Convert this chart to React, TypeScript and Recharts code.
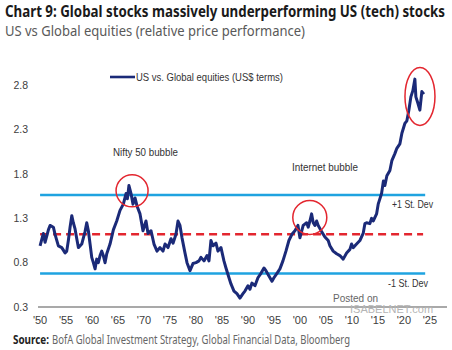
import {
  LineChart,
  Line,
  XAxis,
  YAxis,
  ReferenceLine,
  ReferenceDot,
} from 'recharts';

// relative price, US vs Global equities
const years = [
  1950.0, 1950.63, 1950.96, 1951.6, 1951.92, 1952.56, 1952.88, 1953.52, 1954.17, 1954.81,
  1955.13, 1955.44, 1955.77, 1956.1, 1956.4, 1956.73, 1957.06, 1957.37, 1958.02, 1958.65,
  1958.98, 1959.29, 1959.62, 1959.94, 1960.25, 1960.58, 1960.9, 1961.21, 1961.54, 1961.87,
  1962.17, 1962.5, 1962.83, 1963.46, 1964.1, 1964.75, 1965.38, 1966.02, 1966.54, 1966.8,
  1967.1, 1967.5, 1967.88, 1968.27, 1968.65, 1969.23, 1969.8, 1970.38, 1970.77, 1971.35,
  1971.92, 1972.5, 1973.08, 1973.65, 1974.04, 1974.62, 1975.19, 1975.58, 1976.15, 1976.54,
  1976.92, 1977.31, 1977.88, 1978.27, 1978.85, 1979.42, 1980.0, 1980.58, 1980.96, 1981.54,
  1982.12, 1982.5, 1982.88, 1983.27, 1983.85, 1984.23, 1984.81, 1985.38, 1985.77, 1986.35,
  1986.73, 1987.31, 1987.88, 1988.46, 1989.04, 1989.42, 1990.0, 1990.38, 1990.77, 1991.35,
  1991.92, 1992.5, 1993.08, 1993.46, 1994.04, 1994.62, 1995.0, 1995.58, 1996.15, 1996.73,
  1997.31, 1997.88, 1998.46, 1999.04, 1999.62, 2000.0, 2000.63, 2001.29, 2001.6, 2001.92,
  2002.25, 2002.56, 2002.88, 2003.21, 2003.52, 2004.17, 2004.81, 2005.44, 2005.77, 2006.4,
  2007.06, 2007.69, 2008.33, 2008.98, 2009.62, 2009.94, 2010.25, 2010.9, 2011.54, 2012.17,
  2012.5, 2012.83, 2013.46, 2013.79, 2014.1, 2014.75, 2015.06, 2015.71, 2016.06, 2016.35,
  2016.73, 2017.31, 2017.69, 2018.27, 2018.65, 2019.23, 2019.62, 2020.19, 2020.58, 2020.96,
  2021.35, 2021.73, 2022.12, 2022.31, 2022.69, 2023.08, 2023.46, 2023.85,
];

const usVsGlobal = [
  0.99, 1.13, 1.03, 1.17, 1.22, 1.2, 1.12, 0.99, 0.97, 0.91,
  0.93, 1.05, 1.2, 1.33, 1.25, 1.18, 1.07, 0.97, 1.01, 1.15,
  1.25, 1.16, 1.01, 0.86, 0.8, 0.73, 0.84, 0.8, 0.88, 0.93,
  0.88, 0.8, 0.9, 1.01, 1.17, 1.27, 1.39, 1.46, 1.58, 1.52,
  1.67, 1.58, 1.46, 1.53, 1.44, 1.35, 1.16, 1.27, 1.13, 1.16,
  1.01, 0.93, 0.97, 0.93, 1.01, 0.97, 1.07, 1.02, 1.12, 1.27,
  1.22, 1.08, 0.91, 0.8, 0.71, 0.79, 0.8, 0.82, 0.86, 0.82,
  0.88, 0.82, 1.05, 0.99, 1.02, 0.93, 0.97, 0.82, 0.74, 0.63,
  0.56, 0.48, 0.45, 0.4, 0.45, 0.48, 0.54, 0.5, 0.57, 0.54,
  0.63, 0.68, 0.74, 0.71, 0.65, 0.59, 0.63, 0.68, 0.73, 0.82,
  0.93, 1.05, 1.12, 1.16, 1.22, 1.08, 1.22, 1.25, 1.2, 1.27,
  1.35, 1.25, 1.22, 1.27, 1.22, 1.15, 1.09, 1.05, 0.99, 0.93,
  0.9, 0.88, 0.84, 0.91, 0.95, 1.01, 0.97, 1.01, 1.05, 1.13,
  1.24, 1.25, 1.24, 1.3, 1.27, 1.35, 1.46, 1.58, 1.72, 1.67,
  1.78, 1.84, 1.95, 2.03, 2.09, 2.14, 2.26, 2.37, 2.4, 2.52,
  2.67, 2.74, 2.87, 2.67, 2.6, 2.52, 2.73, 2.7,
];

const xTicks = [1950, 1955, 1960, 1965, 1970, 1975, 1980, 1985, 1990, 1995, 2000, 2005, 2010, 2015, 2020, 2025];
const yTicks = [0.3, 0.8, 1.3, 1.8, 2.3, 2.8];

const plusOneStd = 1.563;
const average = 1.12;
const minusOneStd = 0.678;

const data = years.map((year, i) => ({ year, value: usVsGlobal[i] }));

const NAVY = '#1b2a78';
const SKY = '#1fa3e0';
const RED = '#e3262f';
const FONT = '"Liberation Sans", Arial, sans-serif';
const HEAD = '"Noto Sans", sans-serif';

const Ellipse = (props: any) => (
  <ellipse cx={props.cx} cy={props.cy} rx={15} ry={29} fill="none" stroke={RED} strokeWidth={1.5} />
);

export default function App() {
  return (
    <div style={{ position: 'relative', width: 452, height: 350, background: '#fff', fontFamily: FONT }}>
      <style>{'body{margin:0}'}</style>
      <LineChart width={452} height={350} data={data} margin={{ top: 41, right: 5, bottom: 13, left: 0 }}>
        <XAxis
          type="number"
          dataKey="year"
          domain={[1949.6, 2028.3]}
          allowDataOverflow
          ticks={xTicks}
          tickFormatter={(y) => "'" + String(y).slice(2)}
          height={30}
          tickLine={false}
          tickSize={0}
          tickMargin={9}
          axisLine={{ stroke: '#8c8c8c', strokeWidth: 1.5 }}
          tick={{ fill: '#404040', fontSize: 11, fontFamily: FONT }}
        />
        <YAxis
          type="number"
          domain={[0.3, 3.3]}
          allowDataOverflow
          ticks={yTicks}
          tickFormatter={(v) => v.toFixed(1)}
          width={38}
          axisLine={false}
          tickLine={false}
          tickSize={0}
          tickMargin={10}
          tick={{ fill: '#404040', fontSize: 10.5, fontFamily: FONT }}
        />
        <ReferenceLine
          segment={[{ x: 1950, y: plusOneStd }, { x: 2024.1, y: plusOneStd }]}
          stroke={SKY}
          strokeWidth={2.5}
        />
        <ReferenceLine
          segment={[{ x: 1950, y: minusOneStd }, { x: 2024.1, y: minusOneStd }]}
          stroke={SKY}
          strokeWidth={2.5}
        />
        <ReferenceLine
          segment={[{ x: 1950, y: average }, { x: 2023.7, y: average }]}
          stroke={RED}
          strokeWidth={2.5}
          strokeDasharray="8 5"
        />
        <Line
          type="linear"
          dataKey="value"
          stroke={NAVY}
          strokeWidth={3}
          strokeLinejoin="round"
          dot={false}
          isAnimationActive={false}
        />
        <ReferenceDot x={1967.7} y={1.61} r={16} fill="none" stroke={RED} strokeWidth={1.5} />
        <ReferenceDot x={2001.9} y={1.31} r={17} fill="none" stroke={RED} strokeWidth={1.5} />
        <ReferenceDot x={2023.1} y={2.675} shape={Ellipse} />
      </LineChart>

      <svg width={452} height={350} style={{ position: 'absolute', left: 0, top: 0, pointerEvents: 'none' }}>
        <text x={5} y={17} fontFamily={HEAD} fontWeight={700} fontSize={16.5} fill="#1a1a1a" textLength={440} lengthAdjust="spacingAndGlyphs">
          Chart 9: Global stocks massively underperforming US (tech) stocks
        </text>
        <text x={5} y={36} fontFamily={HEAD} fontSize={14} fill="#595959" textLength={300} lengthAdjust="spacingAndGlyphs">
          US vs Global equities (relative price performance)
        </text>

        <line x1={110} x2={135} y1={77} y2={77} stroke={NAVY} strokeWidth={2.6} />
        <text x={136} y={81} fontFamily={FONT} fontSize={11} fill="#333" textLength={147} lengthAdjust="spacingAndGlyphs">
          US vs. Global equities (US$ terms)
        </text>

        <text x={113} y={156} fontFamily={FONT} fontSize={11} fill="#333" textLength={65} lengthAdjust="spacingAndGlyphs">
          Nifty 50 bubble
        </text>
        <text x={292} y={171} fontFamily={FONT} fontSize={11} fill="#333" textLength={66} lengthAdjust="spacingAndGlyphs">
          Internet bubble
        </text>
        <text x={392} y={208} fontFamily={FONT} fontSize={11} fill="#333" textLength={41} lengthAdjust="spacingAndGlyphs">
          +1 St. Dev
        </text>
        <text x={388} y={287} fontFamily={FONT} fontSize={11} fill="#333" textLength={40} lengthAdjust="spacingAndGlyphs">
          -1 St. Dev
        </text>

        <text x={333} y={302} fontFamily={FONT} fontSize={10} fill="#666">Posted on</text>
        <text x={350} y={313} fontFamily={FONT} fontSize={11} fill="#b5b5b5">ISABELNET.com</text>

        <text x={13} y={344} fontFamily={HEAD} fontWeight={700} fontSize={12.5} fill="#222" textLength={36} lengthAdjust="spacingAndGlyphs">
          Source:
        </text>
        <text x={52} y={344} fontFamily={HEAD} fontSize={12.5} fill="#666" textLength={298} lengthAdjust="spacingAndGlyphs">
          BofA Global Investment Strategy, Global Financial Data, Bloomberg
        </text>
      </svg>
    </div>
  );
}
